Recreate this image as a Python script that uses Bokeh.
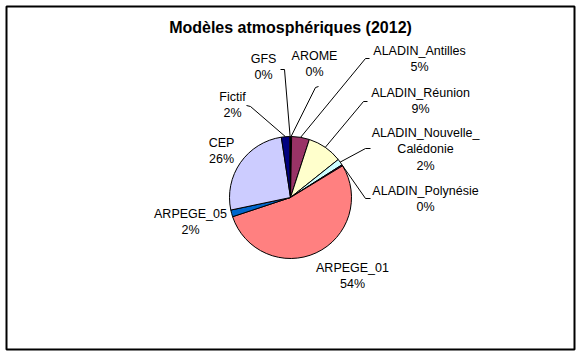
import math
from bokeh.plotting import figure
from bokeh.models import Range1d, ColumnDataSource
from bokeh.core.properties import value
from bokeh.embed import file_html
from bokeh.resources import INLINE

# ---- data ----
title = "Modèles atmosphériques (2012)"
categories = ["AROME", "ALADIN_Antilles", "ALADIN_Réunion", "ALADIN_Nouvelle_Calédonie",
              "ALADIN_Polynésie", "ARPEGE_01", "ARPEGE_05", "CEP", "Fictif", "GFS"]
shares = [0.3, 4.7, 9.3, 1.7, 0.3, 53.6, 1.8, 25.9, 2.2, 0.2]

# ---- styles / layout ----
colors = ["#9999FF", "#993366", "#FFFFCC", "#CCFFFF", "#660066",
          "#FF8080", "#0066CC", "#CCCCFF", "#000080", "#FF00FF"]
W, H = 580, 354
CX, CY, R = 290, 197, 61          # pixel coords (y down)
FONT = "Liberation Sans"
# label position: (center x, y of first line) in pixels
label_pos = {
    "AROME": (314, 55), "ALADIN_Antilles": (419, 50), "ALADIN_Réunion": (420, 92),
    "ALADIN_Nouvelle_Calédonie": (425, 132), "ALADIN_Polynésie": (425, 190),
    "ARPEGE_01": (352, 267), "ARPEGE_05": (190, 213), "CEP": (221, 142),
    "Fictif": (232, 96), "GFS": (263, 58),
}
# leader line start points near the label (pixels)
leader = {
    "AROME": [(318, 86), (315, 87)], "ALADIN_Antilles": [(369, 58), (365, 58)],
    "ALADIN_Réunion": [(367, 101), (363, 101)],
    "ALADIN_Nouvelle_Calédonie": [(370, 148), (365, 148)],
    "ALADIN_Polynésie": [(370, 198), (365, 198)],
    "Fictif": [(246, 105), (250, 106)], "GFS": [(280, 69), (284, 69)],
}
LINE_STEP = 16.5

def fy(py):
    return H - py

p = figure(width=W, height=H, x_range=Range1d(0, W), y_range=Range1d(0, H),
           x_axis_type=None, y_axis_type=None, toolbar_location=None,
           output_backend="svg", min_border=0, outline_line_color=None,
           background_fill_color="white", border_fill_color="white")
p.grid.visible = False

# outer border
p.quad(left=[6], right=[574], bottom=[fy(349)], top=[fy(6)], fill_color=None,
       line_color="black", line_width=2)

# wedges
total = sum(shares)
cum = [0.0]
for s in shares:
    cum.append(cum[-1] + s / total)
start = [math.pi / 2 - 2 * math.pi * c for c in cum[:-1]]
end = [math.pi / 2 - 2 * math.pi * c for c in cum[1:]]
src = ColumnDataSource(dict(cat=categories, start=start, end=end, color=colors))
p.wedge(x=CX, y=fy(CY), radius=R, start_angle="start", end_angle="end",
        direction="clock", fill_color="color", line_color="black", line_width=1,
        source=src)

# leader lines
xs, ys = [], []
for i, c in enumerate(categories):
    if c not in leader:
        continue
    mid = (cum[i] + cum[i + 1]) / 2 * 2 * math.pi
    px = CX + R * math.sin(mid)
    pyy = CY - R * math.cos(mid)
    pts = leader[c] + [(px, pyy)]
    xs.append([q[0] for q in pts])
    ys.append([fy(q[1]) for q in pts])
p.multi_line(xs=xs, ys=ys, line_color="black", line_width=1)

# labels
tx, ty, tt = [], [], []
for i, c in enumerate(categories):
    pct = f"{round(shares[i] / total * 100):d}%"
    lines = c.replace("Nouvelle_", "Nouvelle_\n").split("\n") + [pct]
    x0, y0 = label_pos[c]
    for k, ln in enumerate(lines):
        tx.append(x0)
        ty.append(fy(y0 + k * LINE_STEP))
        tt.append(ln)
p.text(x=tx, y=ty, text=tt, text_font=value(FONT), text_font_size="12.5px",
       text_align="center", text_baseline="middle", text_color="black")

# title
p.text(x=[290], y=[fy(27)], text=[title], text_font=value(FONT),
       text_font_size="16px", text_font_style="bold", text_align="center",
       text_baseline="middle", text_color="black")

open("out.html", "w").write(file_html(p, INLINE))
